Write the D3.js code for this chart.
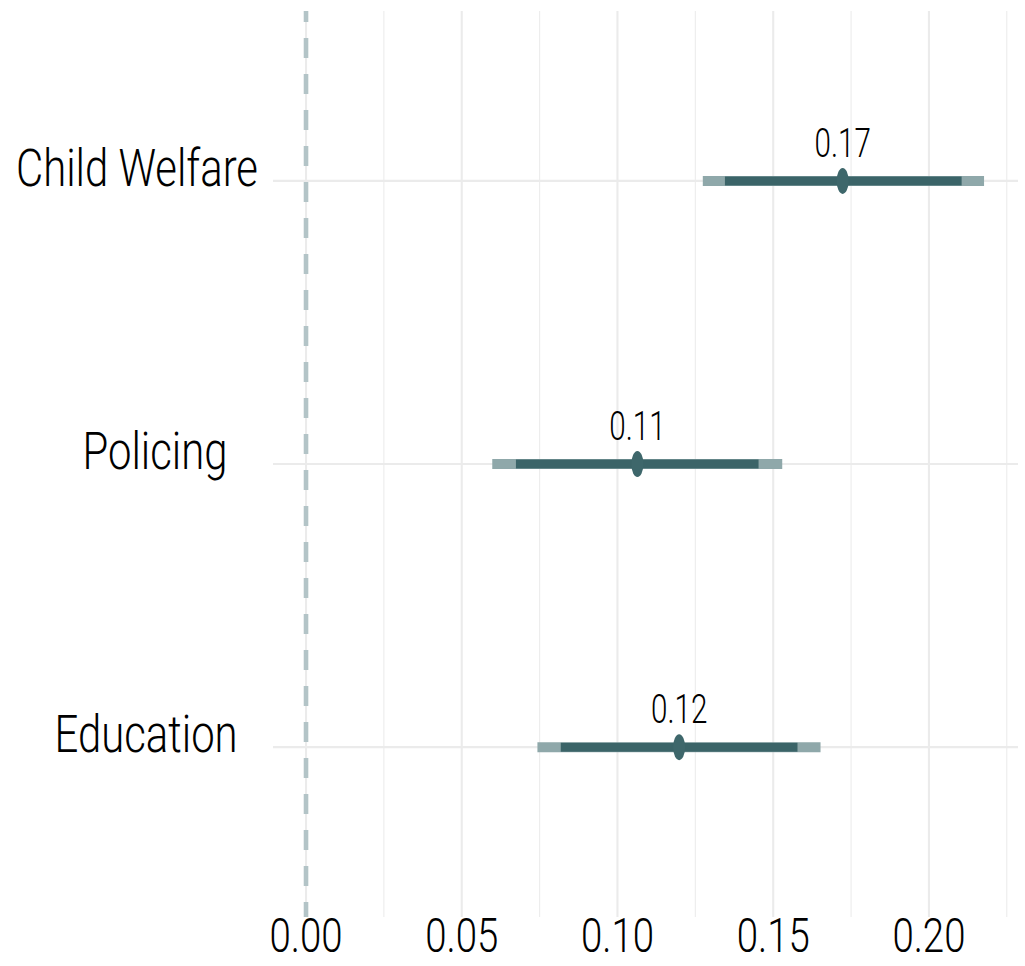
<!DOCTYPE html>
<html>
<head>
<meta charset="utf-8">
<script src="https://cdn.jsdelivr.net/npm/d3@7"></script>
<style>
  html, body { margin: 0; padding: 0; background: #ffffff; }
  svg { display: block; }
  text { font-family: Roboto, "Liberation Sans", sans-serif; font-weight: 300; fill: #000; white-space: pre; }
</style>
</head>
<body>
<script>
// Sector estimates with 80% (inner) and 95% (outer) intervals
const categories = ["Child Welfare", "Policing   ", "Education  "];
const estimates  = [0.1723, 0.1064, 0.1198];
const outerLow   = [0.1274, 0.0598, 0.0743];
const outerHigh  = [0.2177, 0.1529, 0.1652];
const innerLow   = [0.1345, 0.0674, 0.0818];
const innerHigh  = [0.2105, 0.1453, 0.1578];
const xTicks     = [0, 0.05, 0.10, 0.15, 0.20];
const xMinor     = [0.025, 0.075, 0.125, 0.175, 0.225];

const rows = categories.map((c, i) => ({
  cat: c, est: estimates[i],
  olo: outerLow[i], ohi: outerHigh[i],
  ilo: innerLow[i], ihi: innerHigh[i]
}));

const W = 1025, H = 966;
const panel = { left: 273, right: 1018, top: 11, bottom: 917 };

const svg = d3.select("body").append("svg").attr("width", W).attr("height", H);

const x = d3.scaleLinear().domain([-0.0106, 0.2286]).range([panel.left, panel.right]);
const y = d3.scalePoint().domain(categories).range([panel.top, panel.bottom]).padding(0.6);

const grid = svg.append("g");
// minor vertical grid
grid.selectAll("line.minor").data(xMinor).join("line")
  .attr("x1", d => x(d)).attr("x2", d => x(d))
  .attr("y1", panel.top).attr("y2", panel.bottom)
  .attr("stroke", "#ececec").attr("stroke-width", 1.1);
// major vertical grid
grid.selectAll("line.major").data(xTicks).join("line")
  .attr("x1", d => x(d)).attr("x2", d => x(d))
  .attr("y1", panel.top).attr("y2", panel.bottom)
  .attr("stroke", "#ebebeb").attr("stroke-width", 2.1);
// horizontal grid
grid.selectAll("line.h").data(categories).join("line")
  .attr("x1", panel.left).attr("x2", panel.right)
  .attr("y1", d => y(d)).attr("y2", d => y(d))
  .attr("stroke", "#ebebeb").attr("stroke-width", 2.1);

// reference line at zero
svg.append("line")
  .attr("x1", x(0)).attr("x2", x(0))
  .attr("y1", panel.top).attr("y2", panel.bottom)
  .attr("stroke", "#b3c4c7").attr("stroke-width", 4.6)
  .attr("stroke-dasharray", "20,16").attr("stroke-dashoffset", 9);

const marks = svg.append("g");
marks.selectAll("line.outer").data(rows).join("line")
  .attr("x1", d => x(d.olo)).attr("x2", d => x(d.ohi))
  .attr("y1", d => y(d.cat)).attr("y2", d => y(d.cat))
  .attr("stroke", "#8fa8aa").attr("stroke-width", 10);
marks.selectAll("line.inner").data(rows).join("line")
  .attr("x1", d => x(d.ilo)).attr("x2", d => x(d.ihi))
  .attr("y1", d => y(d.cat)).attr("y2", d => y(d.cat))
  .attr("stroke", "#3b6468").attr("stroke-width", 9);
marks.selectAll("ellipse").data(rows).join("ellipse")
  .attr("cx", d => x(d.est)).attr("cy", d => y(d.cat))
  .attr("rx", 6).attr("ry", 13)
  .attr("fill", "#3e676b");

// condensed text: horizontally squeezed glyphs
const fmt = d3.format(".2f");

svg.selectAll("text.val").data(rows).join("text")
  .attr("class", "val")
  .attr("transform", d => `translate(${x(d.est)},${y(d.cat) - 24}) scale(0.74,1)`)
  .attr("text-anchor", "middle")
  .attr("font-size", 40)
  .text(d => fmt(d.est));

svg.selectAll("text.cat").data(categories).join("text")
  .attr("class", "cat")
  .attr("transform", d => `translate(258,${y(d) + 5}) scale(0.805,1)`)
  .attr("text-anchor", "end")
  .attr("font-size", 52)
  .text(d => d);

svg.selectAll("text.tick").data(xTicks).join("text")
  .attr("class", "tick")
  .attr("transform", d => `translate(${x(d)},952) scale(0.8,1)`)
  .attr("text-anchor", "middle")
  .attr("font-size", 48)
  .text(d => fmt(d));
</script>
</body>
</html>
